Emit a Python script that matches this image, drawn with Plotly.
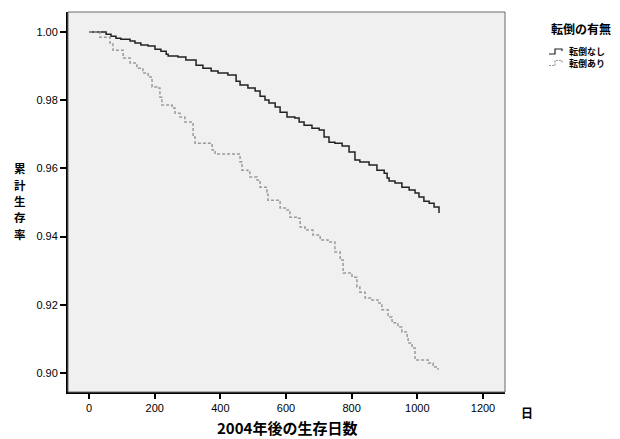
import plotly.graph_objects as go

# 転倒なし (solid) – Kaplan-Meier steps
days_no = [0, 43, 52, 67, 82, 97, 125, 140, 158, 180, 201, 219, 235, 241, 271, 295, 326, 347,
           372, 393, 423, 448, 460, 484, 506, 521, 536, 548, 567, 582, 603, 627, 640, 655,
           679, 701, 716, 731, 749, 771, 792, 810, 825, 853, 877, 899, 908, 914, 932, 953,
           975, 993, 1005, 1020, 1036, 1051, 1066]
surv_no = [1.000, 1.000, 0.9994, 0.9988, 0.9982, 0.9979, 0.9974, 0.9968, 0.9962, 0.9959, 0.9950,
           0.9944, 0.9935, 0.9930, 0.9927, 0.9918, 0.9903, 0.9894, 0.9886, 0.9880, 0.9874,
           0.9856, 0.9845, 0.9836, 0.9827, 0.9812, 0.9801, 0.9792, 0.9780, 0.9765, 0.9751,
           0.9748, 0.9736, 0.9727, 0.9718, 0.9713, 0.9692, 0.9677, 0.9674, 0.9666, 0.9648,
           0.9625, 0.9619, 0.9610, 0.9595, 0.9586, 0.9572, 0.9563, 0.9557, 0.9545, 0.9537,
           0.9528, 0.9516, 0.9504, 0.9498, 0.9487, 0.9469]

# 転倒あり (dashed)
days_yes = [0, 27, 33, 64, 73, 104, 125, 146, 164, 180, 192, 207, 216, 222, 253, 262, 277, 292,
            317, 323, 375, 384, 460, 466, 484, 490, 512, 521, 542, 545, 582, 603, 612, 634,
            643, 658, 682, 704, 728, 749, 765, 774, 801, 816, 825, 841, 862, 880, 892, 911,
            923, 941, 953, 969, 972, 984, 993, 1033, 1048, 1063]
surv_yes = [1.000, 1.000, 0.9985, 0.9968, 0.9947, 0.9924, 0.9909, 0.9894, 0.9880, 0.9868, 0.9839,
            0.9836, 0.9809, 0.9786, 0.9777, 0.9762, 0.9751, 0.9736, 0.9692, 0.9674, 0.9654,
            0.9642, 0.9619, 0.9595, 0.9589, 0.9575, 0.9566, 0.9545, 0.9531, 0.9507, 0.9484,
            0.9478, 0.9457, 0.9454, 0.9428, 0.9419, 0.9405, 0.9390, 0.9384, 0.9355, 0.9331,
            0.9293, 0.9281, 0.9252, 0.9237, 0.9220, 0.9214, 0.9205, 0.9185, 0.9164, 0.9147,
            0.9135, 0.9120, 0.9105, 0.9088, 0.9073, 0.9038, 0.9029, 0.9017, 0.9009]

x_ticks = [0, 200, 400, 600, 800, 1000, 1200]
y_ticks = [0.90, 0.92, 0.94, 0.96, 0.98, 1.00]
y_tick_labels = ["0.90", "0.92", "0.94", "0.96", "0.98", "1.00"]

group_names = ["転倒なし", "転倒あり"]
legend_title = "転倒の有無"
y_title = "累計生存率"
x_title = "2004年後の生存日数"
x_unit = "日"
solid_color = "#222222"
dash_color = "#9a9a9a"

JP = "Noto Sans CJK JP"
LAT = "Liberation Sans"

# page body has an 8px default margin; compensate so screen positions match
OFF = 8
W, H = 620, 439
ML, MT = 68 - OFF, 12 - OFF
MR = W - (505 - OFF)
MB = H - (392 - OFF)
PW, PH = W - ML - MR, H - MT - MB


def px(sx):
    return (sx - OFF - ML) / PW


def py(sy):
    return (H - MB - (sy - OFF)) / PH


fig = go.Figure()
fig.add_trace(go.Scatter(x=days_no, y=surv_no, mode="lines", name=group_names[0],
                         line=dict(color=solid_color, width=1.5, shape="hv")))
fig.add_trace(go.Scatter(x=days_yes, y=surv_yes, mode="lines", name=group_names[1],
                         line=dict(color=dash_color, width=1.5, shape="hv", dash="3px,2px")))

LEG_Y = [52, 63.5]


def legend_icon(y0, color, dash):
    path = (f"M{px(549)},{py(y0)} L{px(555)},{py(y0)} L{px(555)},{py(y0 - 5)} "
            f"L{px(562)},{py(y0 - 5)} L{px(562)},{py(y0 - 3)}")
    return dict(type="path", xref="paper", yref="paper", path=path,
                line=dict(color=color, width=1.2, dash=dash))


shapes = [
    dict(type="rect", xref="paper", yref="paper", x0=0, y0=0, x1=1, y1=1,
         line=dict(color="#6a6a6a", width=1), layer="above"),
    legend_icon(LEG_Y[0] + 2, solid_color, "solid"),
    legend_icon(LEG_Y[1] + 2, dash_color, "2px,1px"),
]

annotations = [
    dict(text=f"<b>{x_title}</b>", xref="paper", yref="paper", x=0.5, y=py(427),
         xanchor="center", yanchor="middle", showarrow=False,
         font=dict(family=JP, size=15)),
    dict(text=f"<b>{x_unit}</b>", xref="paper", yref="paper", x=px(527), y=py(412),
         xanchor="center", yanchor="middle", showarrow=False,
         font=dict(family=JP, size=12)),
    dict(text=f"<b>{legend_title}</b>", xref="paper", yref="paper", x=px(549), y=py(28),
         xanchor="left", yanchor="middle", showarrow=False,
         font=dict(family=JP, size=12)),
    dict(text=f"<b>{group_names[0]}<br>{group_names[1]}</b>", xref="paper", yref="paper",
         x=px(567), y=py((LEG_Y[0] + LEG_Y[1]) / 2), xanchor="left", yanchor="middle",
         align="left", showarrow=False, font=dict(family=JP, size=9)),
]
# vertical y-axis title, one upright character per line
for i, ch in enumerate(y_title):
    annotations.append(dict(text=f"<b>{ch}</b>", xref="paper", yref="paper",
                            x=px(20), y=py(168 + 16.5 * i), xanchor="center",
                            yanchor="middle", showarrow=False, borderpad=0,
                            font=dict(family=JP, size=11.5)))

fig.update_layout(
    width=W, height=H,
    margin=dict(l=ML, r=MR, t=MT, b=MB),
    paper_bgcolor="white", plot_bgcolor="#f0f0f0",
    font=dict(family=LAT, size=11, color="black"),
    showlegend=False,
    xaxis=dict(range=[-64, 1267], tickvals=x_ticks, ticks="outside", ticklen=5, tickwidth=2,
               tickcolor="black", showline=True, linecolor="black", linewidth=2,
               showgrid=False, zeroline=False, tickfont=dict(family=LAT, size=11)),
    yaxis=dict(range=[0.8944, 1.0059], tickvals=y_ticks, ticktext=y_tick_labels,
               ticks="outside", ticklen=6, tickwidth=2, tickcolor="black",
               showline=True, linecolor="black", linewidth=2, showgrid=False,
               zeroline=False, tickfont=dict(family=LAT, size=11)),
    shapes=shapes,
    annotations=annotations,
)

fig.write_html("out.html")
